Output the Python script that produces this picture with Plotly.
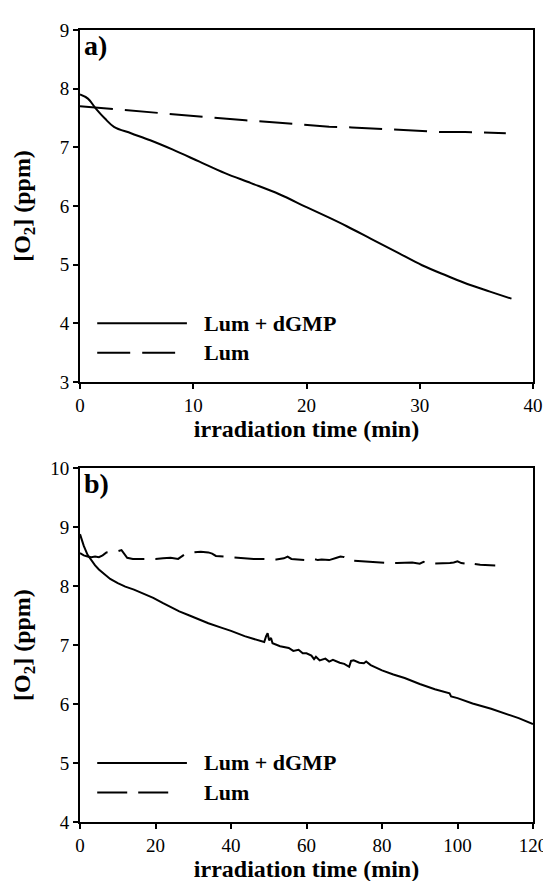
import plotly.graph_objects as go

# ---------------- data ----------------
# Panel a
a_t_dgmp = [0, 0.7, 1.4, 2.2, 3.0, 4.5, 6.2, 8.2, 10.5, 12.8, 15.1, 17.6, 20.0, 22.0,
            23.6, 25.7, 28.1, 30.2, 32.4, 34.2, 36.2, 38.1]
a_v_dgmp = [7.90, 7.83, 7.66, 7.49, 7.35, 7.24, 7.12, 6.96, 6.76, 6.56, 6.39, 6.20, 5.98, 5.80,
            5.65, 5.44, 5.20, 4.99, 4.81, 4.67, 4.54, 4.42]
a_t_lum = [0, 2.4, 5.0, 7.6, 11.1, 14.6, 17.6, 20.0, 22.0, 24.0, 26.2, 28.0, 30.0, 32.0, 34.0, 36.0, 37.6]
a_v_lum = [7.70, 7.66, 7.62, 7.57, 7.52, 7.46, 7.42, 7.38, 7.35, 7.34, 7.32, 7.30, 7.28, 7.26, 7.26, 7.25, 7.24]

# Panel b
b_t_dgmp = [0, 0.5, 1, 2, 3, 4, 5, 6.5, 8, 10, 12, 14.3, 17, 19.4, 22, 24, 26.3, 29, 31.5, 34,
            37.6, 40, 43.6, 46, 48, 48.8, 49.3, 49.7, 50.1, 50.6, 51.0, 52, 53, 55.3, 56.5, 57.9,
            59, 60, 61.3, 62, 62.5, 63.5, 65, 66, 67, 68.8, 70, 71.3, 71.8, 72.5, 74, 75.2, 75.8,
            77, 80, 83, 86, 90, 94, 97.9, 98.3, 100, 104, 108.9, 112, 116.2, 120]
b_v_dgmp = [8.88, 8.78, 8.68, 8.53, 8.43, 8.35, 8.28, 8.20, 8.12, 8.05, 7.99, 7.94, 7.87, 7.80,
            7.71, 7.64, 7.57, 7.50, 7.43, 7.37, 7.29, 7.24, 7.15, 7.10, 7.07, 7.05, 7.15, 7.20,
            7.08, 7.12, 7.03, 7.00, 6.98, 6.95, 6.90, 6.92, 6.86, 6.86, 6.82, 6.76, 6.80, 6.74,
            6.77, 6.72, 6.75, 6.70, 6.68, 6.63, 6.73, 6.74, 6.70, 6.69, 6.72, 6.66, 6.57, 6.50,
            6.44, 6.34, 6.25, 6.18, 6.13, 6.10, 6.01, 5.92, 5.85, 5.76, 5.66]
b_t_lum = [0, 1, 2, 3, 4, 5, 6, 7, 8, 9, 10, 11, 11.6, 12.5, 14, 16, 18, 20, 22, 24, 26, 28, 30,
           32, 34, 35, 36, 38, 40, 42, 44, 46, 48, 50, 52, 54, 55, 56, 58, 60, 62, 63, 64, 66, 68,
           69, 70, 71, 72, 74, 76, 78, 80, 82, 84, 86, 88, 90, 91, 92, 94, 96, 98, 99, 100, 101,
           102, 103, 104, 106, 108, 110]
b_v_lum = [8.56, 8.52, 8.50, 8.49, 8.50, 8.49, 8.52, 8.57, 8.58, 8.58, 8.59, 8.61, 8.55, 8.48,
           8.46, 8.46, 8.45, 8.46, 8.47, 8.48, 8.46, 8.55, 8.57, 8.58, 8.57, 8.55, 8.51, 8.50,
           8.48, 8.47, 8.47, 8.46, 8.46, 8.45, 8.45, 8.47, 8.50, 8.46, 8.45, 8.44, 8.46, 8.44,
           8.45, 8.44, 8.48, 8.50, 8.49, 8.44, 8.43, 8.42, 8.41, 8.41, 8.40, 8.39, 8.39, 8.39,
           8.40, 8.38, 8.41, 8.38, 8.38, 8.38, 8.39, 8.40, 8.42, 8.39, 8.38, 8.41, 8.38, 8.36,
           8.36, 8.35]

series_names = ["Lum + dGMP", "Lum"]
panel_labels = ["a)", "b)"]
x_title = "irradiation time (min)"
y_title = "[O<sub>2</sub>] (ppm)"

# ---------------- figure ----------------
FONT = "Times New Roman, Liberation Serif, DejaVu Serif, serif"
fig = go.Figure()

dash_a = "33px,12px"
dash_b = "30px,11px"

fig.add_trace(go.Scatter(x=a_t_dgmp, y=a_v_dgmp, mode="lines", name=series_names[0], line_shape="spline",
                         line=dict(color="black", width=2), xaxis="x", yaxis="y", showlegend=False))
fig.add_trace(go.Scatter(x=a_t_lum, y=a_v_lum, mode="lines", name=series_names[1],
                         line=dict(color="black", width=2, dash=dash_a), xaxis="x", yaxis="y", showlegend=False))
fig.add_trace(go.Scatter(x=b_t_dgmp, y=b_v_dgmp, mode="lines", name=series_names[0],
                         line=dict(color="black", width=2), xaxis="x2", yaxis="y2", showlegend=False))
fig.add_trace(go.Scatter(x=b_t_lum, y=b_v_lum, mode="lines", name=series_names[1],
                         line=dict(color="black", width=2, dash=dash_b), xaxis="x2", yaxis="y2", showlegend=False))

axis_common = dict(showline=True, linecolor="black", linewidth=2, mirror=True,
                   ticks="outside", ticklen=5, tickwidth=2, tickcolor="black",
                   showgrid=False, zeroline=False,
                   tickfont=dict(family=FONT, size=19, color="black"))
title_font = dict(family=FONT, size=24, color="black")

fig.update_layout(
    width=551, height=881,
    margin=dict(l=72, r=16, t=22, b=58),
    paper_bgcolor="white", plot_bgcolor="white",
    font=dict(family=FONT, color="black"),
    xaxis=dict(axis_common, domain=[0, 1], anchor="y", range=[0, 40], dtick=10,
               title=dict(text="<b>" + x_title + "</b>", font=title_font, standoff=4)),
    yaxis=dict(axis_common, domain=[0.5556, 1], anchor="x", range=[3, 9], dtick=1,
               title=dict(text="<b>" + y_title + "</b>", font=title_font, standoff=22)),
    xaxis2=dict(axis_common, domain=[0, 1], anchor="y2", range=[0, 120], dtick=20,
                title=dict(text="<b>" + x_title + "</b>", font=title_font, standoff=4)),
    yaxis2=dict(axis_common, domain=[0, 0.4469], anchor="x2", range=[4, 10], dtick=1,
                title=dict(text="<b>" + y_title + "</b>", font=title_font, standoff=13)),
)

# panel labels and hand-drawn legends (long line samples as in the reference)
for i, (xr, yr, dsh) in enumerate([("x", "y", dash_a), ("x2", "y2", dash_b)]):
    fig.add_annotation(text="<b>" + panel_labels[i] + "</b>", xref=xr + " domain", yref=yr + " domain",
                       x=0.004, y=0.955, xanchor="left", yanchor="middle", showarrow=False,
                       font=dict(family=FONT, size=28, color="black"))
    for j, (yy, d, x1) in enumerate([(0.1667, "solid", 0.236), (0.0833, dsh, 0.210)]):
        fig.add_shape(type="line", xref=xr + " domain", yref=yr + " domain",
                      x0=0.038, x1=x1, y0=yy, y1=yy,
                      line=dict(color="black", width=2, dash=d))
        fig.add_annotation(text="<b>" + series_names[j] + "</b>", xref=xr + " domain", yref=yr + " domain",
                           x=0.27, y=yy, xanchor="left", yanchor="middle", showarrow=False,
                           font=dict(family=FONT, size=22, color="black"))

fig.write_html("out.html")
